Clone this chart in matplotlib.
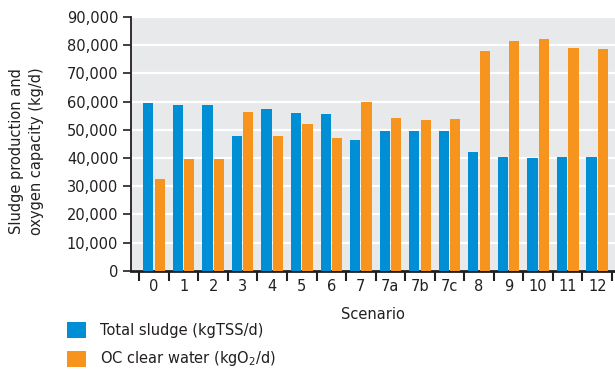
import numpy as np
import matplotlib
matplotlib.use("Agg")
import matplotlib.pyplot as plt
from matplotlib.ticker import FuncFormatter

scenarios = ["0", "1", "2", "3", "4", "5", "6", "7", "7a", "7b", "7c", "8", "9", "10", "11", "12"]
total_sludge = [59600, 58600, 58600, 47900, 57500, 56100, 55700, 46400,
                49600, 49600, 49600, 42100, 40400, 40000, 40400, 40400]
oc_clear_water = [32500, 39600, 39600, 56400, 47900, 52100, 47100, 60000,
                  54300, 53600, 53900, 77900, 81400, 82100, 78900, 78600]

blue = "#008FD5"
orange = "#F7941D"
dark = "#231F20"

plt.rcParams["font.family"] = "DejaVu Sans"
plt.rcParams["font.size"] = 10.5

fig = plt.figure(figsize=(6.15, 3.73), dpi=100)
ax = fig.add_axes([0.2125, 0.2735, 0.7875, 0.6815])

x = np.arange(len(scenarios))
w = 0.345
ax.bar(x - w / 2 - 0.02, total_sludge, width=w, color=blue, label="Total sludge (kgTSS/d)", zorder=3)
ax.bar(x + w / 2 + 0.02, oc_clear_water, width=w, color=orange, label=r"OC clear water (kgO$_2$/d)", zorder=3)

ax.set_facecolor("#E8E9EB")
ax.set_ylim(0, 90000)
ax.set_xlim(-0.79, 15.6)
ax.set_yticks(np.arange(0, 90001, 10000))
ax.yaxis.set_major_formatter(FuncFormatter(lambda v, p: f"{int(v):,}"))
ax.grid(axis="y", color="white", linewidth=1.6, zorder=1)

ax.set_xticks(np.arange(-0.5, len(scenarios), 1.0))
ax.set_xticklabels([])
ax.set_xticks(x, minor=True)
ax.set_xticklabels(scenarios, minor=True)
ax.tick_params(axis="x", which="major", length=7, width=1.5, color=dark, direction="out")
ax.tick_params(axis="x", which="minor", length=0, pad=6, labelcolor=dark)
ax.tick_params(axis="y", length=6, width=1.2, color=dark, labelcolor=dark, pad=3)

for s in ["top", "right"]:
    ax.spines[s].set_visible(False)
ax.spines["left"].set_color(dark)
ax.spines["left"].set_linewidth(1.3)
ax.spines["bottom"].set_color(dark)
ax.spines["bottom"].set_linewidth(2)

ax.set_xlabel("Scenario", color=dark, labelpad=9)
ax.set_ylabel("Sludge production and\noxygen capacity (kg/d)", color=dark,
              linespacing=1.45)
ax.yaxis.set_label_coords(-0.178, 0.47)

fig.legend(loc="upper left", bbox_to_anchor=(0.109, 0.137), frameon=False,
           handlelength=1.3, handleheight=1.3, labelspacing=0.8, handletextpad=0.95,
           borderpad=0, borderaxespad=0, labelcolor=dark)

fig.savefig("out.png", dpi=100)
